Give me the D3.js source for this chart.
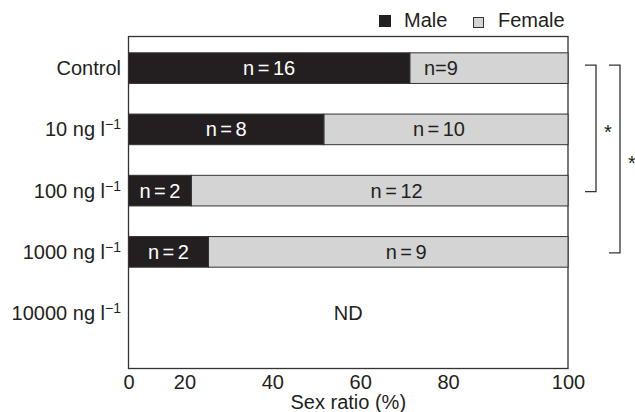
<!DOCTYPE html>
<html>
<head>
<meta charset="utf-8">
<script src="https://cdn.jsdelivr.net/npm/d3@7"></script>
<style>
  body { margin: 0; background: #fff; }
  text { font-family: "Liberation Sans", Arial, Helvetica, sans-serif; fill: #231f20; }
</style>
</head>
<body>
<svg id="chart" width="635" height="412"></svg>
<script>
// ---- data ----
const categories = ["Control", "10", "100", "1000", "10000"];
const maleCounts = [16, 8, 2, 2, null];
const femaleCounts = [9, 10, 12, 9, null];
const xTicks = [0, 20, 40, 60, 80, 100];
const seriesNames = ["Male", "Female"];
const missingLabel = "ND";
const axisTitle = "Sex ratio (%)";
const brackets = [
  { from: "Control", to: "100", mark: "*" },
  { from: "Control", to: "1000", mark: "*" }
];

// ---- layout ----
const W = 635, H = 412;
const plot = { left: 128.5, right: 568, top: 36.5, bottom: 368.5 };
const colors = { male: "#231f20", female: "#d4d4d4", line: "#333333" };
const fontSize = 20;
const femaleLabelShift = [-48, -7, 17, 18, 0];
const labelGap = [[3.5, 0], [3.5, 3.5], [3.5, 3.5], [3.5, 3.5], [0, 0]];
const innerTickShift = -32;

const svg = d3.select("#chart");

const x = d3.scaleLinear().domain([0, 100]).range([plot.left, plot.right]);
const y = d3.scaleBand().domain(categories).range([37.5, 343.75])
  .paddingInner(0.5).paddingOuter(0.25);

const rows = categories.map((c, i) => {
  const m = maleCounts[i], f = femaleCounts[i];
  const ok = m != null && f != null;
  return { cat: c, i, m, f, ok, pct: ok ? m / (m + f) * 100 : null };
});

// frame
svg.append("rect")
  .attr("x", plot.left).attr("y", plot.top)
  .attr("width", plot.right - plot.left).attr("height", plot.bottom - plot.top)
  .attr("fill", "none").attr("stroke", colors.line).attr("stroke-width", 1.3);

// stacked bars
const barG = svg.append("g");
rows.filter(r => r.ok).forEach(r => {
  barG.append("rect")
    .attr("x", x(r.pct)).attr("y", y(r.cat))
    .attr("width", x(100) - x(r.pct)).attr("height", y.bandwidth())
    .attr("fill", colors.female).attr("stroke", colors.line).attr("stroke-width", 1);
  barG.append("rect")
    .attr("x", x(0)).attr("y", y(r.cat))
    .attr("width", x(r.pct) - x(0)).attr("height", y.bandwidth())
    .attr("fill", colors.male).attr("stroke", colors.line).attr("stroke-width", 1);
});

// "n=" labels with optional spacing around the equals sign
function countLabel(g, cx, cy, n, gap, fill) {
  const t = g.append("text")
    .attr("x", cx).attr("y", cy).attr("dy", "0.35em")
    .attr("text-anchor", "middle")
    .attr("font-size", fontSize)
    .style("fill", fill);
  t.append("tspan").text("n");
  t.append("tspan").attr("dx", gap).text("=");
  t.append("tspan").attr("dx", gap).text(n);
}
rows.filter(r => r.ok).forEach(r => {
  const cy = y(r.cat) + y.bandwidth() / 2;
  countLabel(barG, x(r.pct / 2), cy, r.m, labelGap[r.i][0], "#ffffff");
  countLabel(barG, x((r.pct + 100) / 2) + femaleLabelShift[r.i], cy, r.f, labelGap[r.i][1], "#231f20");
});
rows.filter(r => !r.ok).forEach(r => {
  barG.append("text")
    .attr("x", x(50)).attr("y", y(r.cat) + y.bandwidth() / 2).attr("dy", "0.35em")
    .attr("text-anchor", "middle").attr("font-size", fontSize)
    .text(missingLabel);
});

// category labels
const catG = svg.append("g");
categories.forEach(c => {
  const t = catG.append("text")
    .attr("x", 121).attr("y", y(c) + y.bandwidth() / 2).attr("dy", "0.35em")
    .attr("text-anchor", "end").attr("font-size", fontSize);
  if (c === "Control") {
    t.text(c);
  } else {
    t.append("tspan").text(c + " ng l");
    t.append("tspan").attr("dy", "-0.5em").attr("font-size", 14).text("\u22121");
  }
});

// x axis (labels only)
const xAxis = svg.append("g")
  .attr("transform", `translate(0,${plot.bottom})`)
  .call(d3.axisBottom(x).tickValues(xTicks).tickSize(0).tickPadding(6));
xAxis.select(".domain").remove();
xAxis.selectAll(".tick text")
  .attr("font-size", fontSize)
  .attr("font-family", "'Liberation Sans', Arial, sans-serif")
  .style("fill", "#231f20")
  .attr("dx", d => (d > 0 && d < 100) ? innerTickShift : 0);

svg.append("text")
  .attr("x", x(50)).attr("y", 409)
  .attr("text-anchor", "middle").attr("font-size", fontSize)
  .text(axisTitle);

// legend
const lg = svg.append("g");
lg.append("rect").attr("x", 379).attr("y", 15).attr("width", 12).attr("height", 12)
  .attr("fill", colors.male);
lg.append("text").attr("x", 404).attr("y", 27).attr("font-size", fontSize).text(seriesNames[0]);
lg.append("rect").attr("x", 473.5).attr("y", 17.5).attr("width", 10).attr("height", 10)
  .attr("fill", colors.female).attr("stroke", colors.line).attr("stroke-width", 1);
lg.append("text").attr("x", 498).attr("y", 27).attr("font-size", fontSize).text(seriesNames[1]);

// significance brackets
const bracketX = [596, 620];
brackets.forEach((b, k) => {
  const y0 = y(b.from) + y.bandwidth() / 2 - 3;
  const y1 = y(b.to) + y.bandwidth() / 2 + 1;
  const bx = bracketX[k];
  svg.append("path")
    .attr("d", `M${bx - 11},${y0}H${bx}V${y1}H${bx - 11}`)
    .attr("fill", "none").attr("stroke", colors.line).attr("stroke-width", 1.3);
  svg.append("text")
    .attr("x", bx + 12).attr("y", (y0 + y1) / 2).attr("dy", "0.55em")
    .attr("text-anchor", "middle").attr("font-size", 20)
    .text(b.mark);
});
</script>
</body>
</html>
